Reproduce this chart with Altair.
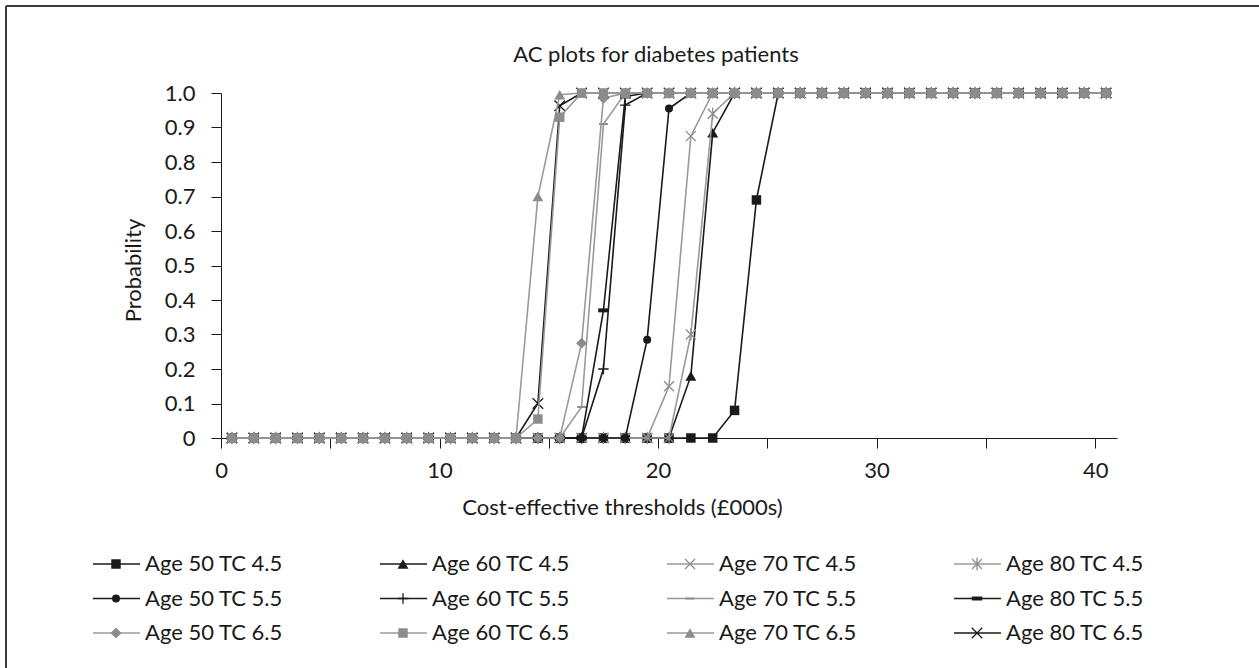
import altair as alt
import pandas as pd

# Cost-effectiveness thresholds (£000s), one point per £1,000 band
thresholds = [i + 0.5 for i in range(41)]

# Probability of being cost-effective for each patient group
age50_tc45 = [0]*23 + [0.08, 0.69] + [1]*16
age60_tc45 = [0]*21 + [0.18, 0.885] + [1]*18
age70_tc45 = [0]*20 + [0.15, 0.875] + [1]*19
age80_tc45 = [0]*21 + [0.30, 0.94] + [1]*18
age50_tc55 = [0]*19 + [0.285, 0.955] + [1]*20
age60_tc55 = [0]*17 + [0.20, 0.965] + [1]*22
age70_tc55 = [0]*16 + [0.09, 0.91] + [1]*23
age80_tc55 = [0]*17 + [0.37, 0.99] + [1]*22
age50_tc65 = [0]*16 + [0.275, 0.985] + [1]*23
age60_tc65 = [0]*14 + [0.055, 0.93] + [1]*25
age70_tc65 = [0]*14 + [0.70, 0.995] + [1]*25
age80_tc65 = [0]*14 + [0.10, 0.963] + [1]*25

series_names = [
    "Age 50 TC 4.5", "Age 60 TC 4.5", "Age 70 TC 4.5", "Age 80 TC 4.5",
    "Age 50 TC 5.5", "Age 60 TC 5.5", "Age 70 TC 5.5", "Age 80 TC 5.5",
    "Age 50 TC 6.5", "Age 60 TC 6.5", "Age 70 TC 6.5", "Age 80 TC 6.5",
]
series_values = [
    age50_tc45, age60_tc45, age70_tc45, age80_tc45,
    age50_tc55, age60_tc55, age70_tc55, age80_tc55,
    age50_tc65, age60_tc65, age70_tc65, age80_tc65,
]

# order in which the series are painted (last one ends up on top)
draw_order = [0, 1, 2, 3, 4, 5, 6, 7, 8, 11, 10, 9]

TITLE = "AC plots for diabetes patients"
X_TITLE = "Cost-effective thresholds (£000s)"
Y_TITLE = "Probability"

BLACK = "#1a1a1a"
GREY = "#9a9a9a"
GREY_MARK = "#8c8c8c"
FONT = "Lato"
FS = 22

# marker glyphs (custom paths are in the unit box [-1, 1])
X_PATH = "M-1,-1L1,1M-1,1L1,-1"
STAR_PATH = "M-1,-1L1,1M-1,1L1,-1M0,-1.25L0,1.25"
PLUS_PATH = "M-1,0L1,0M0,-1L0,1"
THIN_BAR = "M-1,-0.22L1,-0.22L1,0.22L-1,0.22Z"
THICK_BAR = "M-1,-0.38L1,-0.38L1,0.38L-1,0.38Z"
DIAMOND = "M0,-1L1,0L0,1L-1,0Z"

# (line colour, marker colour, shape, filled, size)
styles = [
    (BLACK, BLACK, "square", True, 90),
    (BLACK, BLACK, "triangle-up", True, 120),
    (GREY, GREY_MARK, X_PATH, False, 100),
    (GREY, GREY_MARK, STAR_PATH, False, 100),
    (BLACK, BLACK, "circle", True, 64),
    (BLACK, BLACK, PLUS_PATH, False, 110),
    (GREY, GREY_MARK, THIN_BAR, True, 80),
    (BLACK, BLACK, THICK_BAR, True, 110),
    (GREY, GREY_MARK, DIAMOND, True, 120),
    (GREY, GREY_MARK, "square", True, 90),
    (GREY, GREY_MARK, "triangle-up", True, 120),
    (BLACK, BLACK, X_PATH, False, 110),
]

PLOT_W, PLOT_H = 896, 345
LEFT, TOP = 221, 93
PAD = {"left": LEFT, "top": TOP, "right": 1259 - LEFT - PLOT_W, "bottom": 668 - TOP - PLOT_H}

x_scale = alt.Scale(domain=[0, 41], nice=False, zero=False)
y_scale = alt.Scale(domain=[0, 1], nice=False)

x_axis = alt.Axis(
    values=list(range(0, 41, 5)),
    labelExpr="datum.value % 10 == 0 ? datum.label : ''",
    labelFlush=False, labelOverlap=False,
    title=X_TITLE,
    grid=False, tickSize=10, tickColor=BLACK, domainColor=BLACK,
    labelPadding=12, labelFontSize=FS, labelColor=BLACK, labelFont=FONT,
    titleFontSize=FS, titleFontWeight="normal", titleColor=BLACK, titleFont=FONT,
    titleX=622 - LEFT, titleY=507 - TOP - PLOT_H, titleBaseline="middle",
    titleAnchor="middle", titleAlign="center",
)
y_axis = alt.Axis(
    values=[round(v * 0.1, 1) for v in range(11)],
    labelExpr="datum.value == 0 ? '0' : format(datum.value, '.1f')",
    labelFlush=False, labelOverlap=False,
    title=Y_TITLE,
    grid=False, tickSize=10, tickColor=BLACK, domainColor=BLACK,
    labelPadding=16, labelFontSize=FS, labelColor=BLACK, labelFont=FONT,
    titleFontSize=FS, titleFontWeight="normal", titleColor=BLACK, titleFont=FONT,
    titleX=133 - LEFT, titleY=270 - TOP, titleBaseline="middle", titleAlign="center",
    titleAngle=270,
)


def markers(base, k, **extra):
    line_col, mark_col, shape, filled, size = styles[k]
    if filled:
        return base.mark_point(shape=shape, filled=True, fill=mark_col, size=size,
                               opacity=1, strokeWidth=0, **extra)
    return base.mark_point(shape=shape, filled=False, stroke=mark_col, size=size,
                           opacity=1, strokeWidth=1.3, **extra)


plot_layers = []
for k in draw_order:
    df = pd.DataFrame({"threshold": thresholds, "probability": series_values[k],
                       "series": series_names[k]})
    base = alt.Chart(df).encode(
        x=alt.X("threshold:Q", scale=x_scale, axis=x_axis),
        y=alt.Y("probability:Q", scale=y_scale, axis=y_axis),
    )
    plot_layers.append(base.mark_line(color=styles[k][0], strokeWidth=1.6))
    plot_layers.append(markers(base, k))

plot = alt.layer(*plot_layers)

# legend: four columns, three rows
legend_df = pd.DataFrame({
    "series": series_names,
    "col": [i % 4 for i in range(12)],
    "row": [i // 4 for i in range(12)],
})
lx = alt.Scale(domain=[0, 3], range=[93 - LEFT, 954 - LEFT])
ly = alt.Scale(domain=[0, 2], range=[564 - TOP, 633 - TOP])
legend_layers = []
for k, name in enumerate(series_names):
    base = alt.Chart(legend_df[legend_df["series"] == name]).encode(
        x=alt.X("col:Q", scale=lx, axis=None),
        y=alt.Y("row:Q", scale=ly, axis=None),
    )
    legend_layers.append(
        base.mark_rule(color=styles[k][0], strokeWidth=1.6, x2Offset=47).encode(x2="col:Q")
    )
    legend_layers.append(markers(base, k, xOffset=23))
    legend_layers.append(
        base.mark_text(align="left", baseline="middle", dx=52, fontSize=FS,
                       font=FONT, color=BLACK).encode(text="series:N")
    )

one_row = legend_df.head(1)

# chart title
title = alt.Chart(one_row).mark_text(
    fontSize=FS, font=FONT, color=BLACK, align="center", baseline="middle"
).encode(x=alt.value(656 - LEFT), y=alt.value(55 - TOP), text=alt.value(TITLE))

# outer frame (left and top edges)
frame = alt.Chart(one_row).mark_rule(color="#3a3a3a", strokeWidth=2).encode(
    x=alt.value(6 - LEFT), y=alt.value(6 - TOP), y2=alt.value(700 - TOP)
)
frame_top = alt.Chart(one_row).mark_rule(color="#3a3a3a", strokeWidth=2).encode(
    x=alt.value(6 - LEFT), x2=alt.value(1300 - LEFT), y=alt.value(6 - TOP)
)

legend = alt.layer(*legend_layers, title, frame, frame_top)

chart = alt.layer(plot, legend).resolve_scale(x="independent", y="independent").properties(
    width=PLOT_W,
    height=PLOT_H,
    padding=PAD,
    autosize=alt.AutoSizeParams(type="none"),
    background="white",
).configure_view(stroke=None)

chart.save("out.html", embed_options={"renderer": "svg", "actions": False})
